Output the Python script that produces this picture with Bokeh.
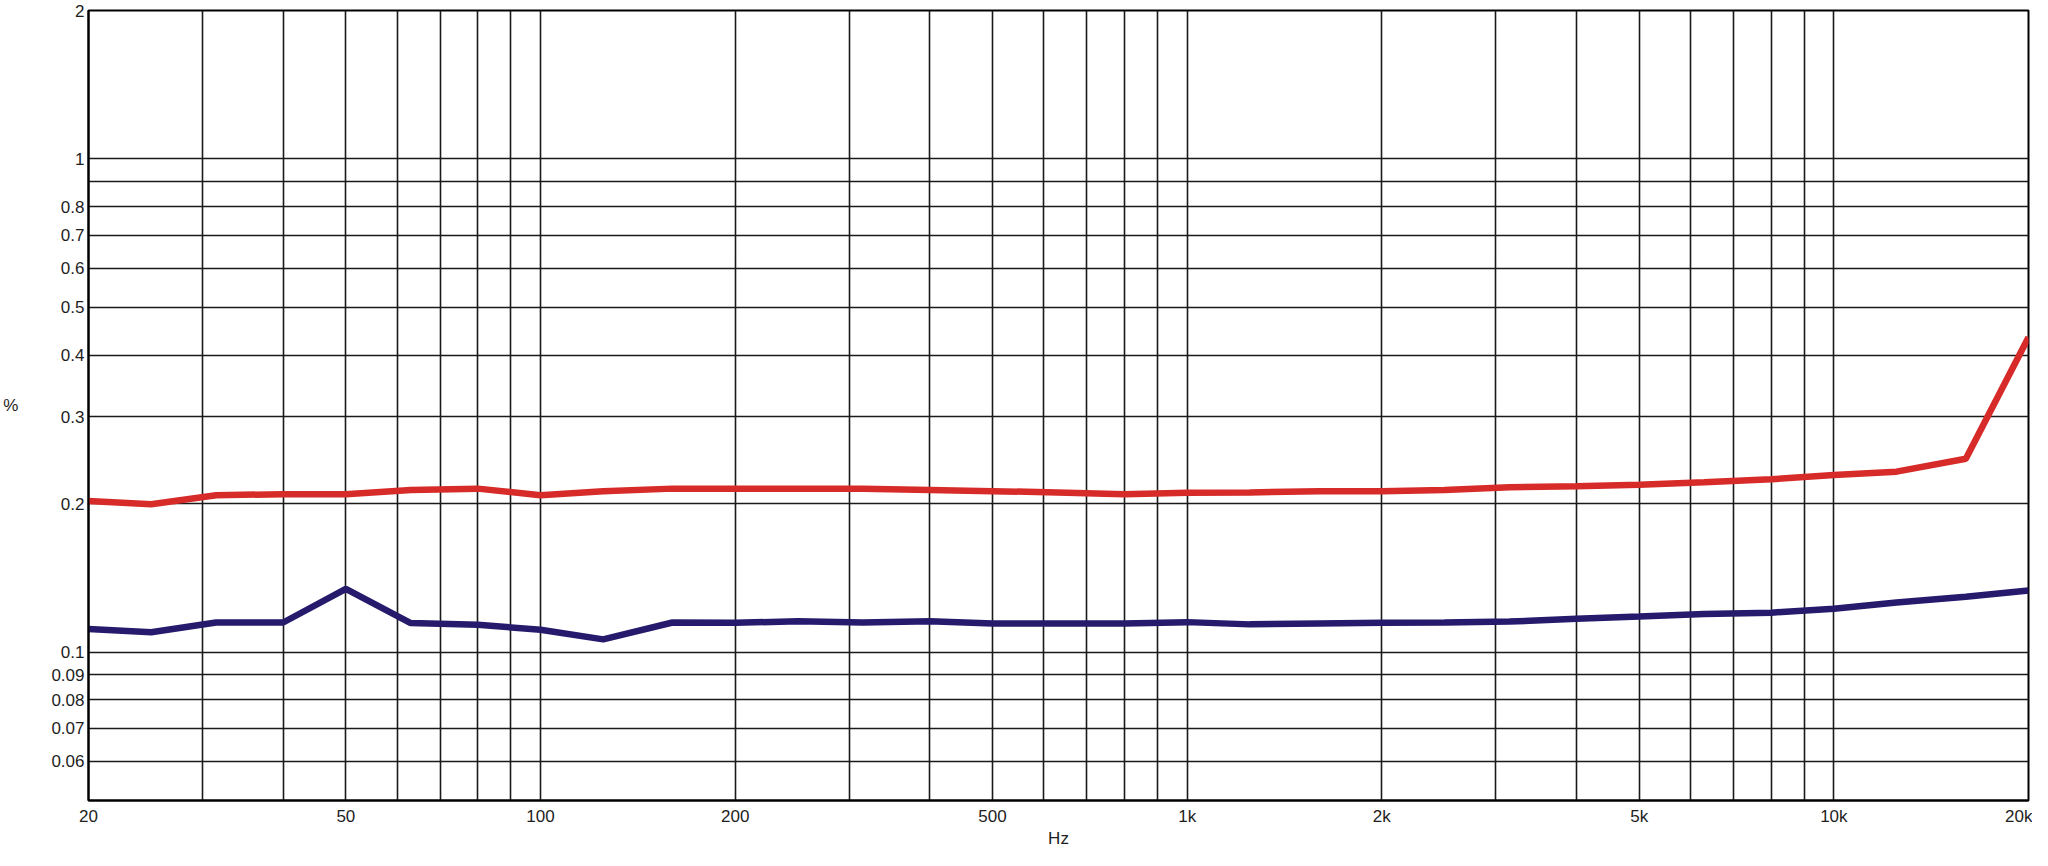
from bokeh.plotting import figure
from bokeh.models import FixedTicker, CustomJSTickFormatter, Range1d
from bokeh.embed import file_html
from bokeh.resources import INLINE

# 1/3-octave frequencies (Hz)
freq = [20, 25, 31.5, 40, 50, 63, 80, 100, 125, 160, 200, 250, 315, 400, 500, 630,
        800, 1000, 1250, 1600, 2000, 2500, 3150, 4000, 5000, 6300, 8000, 10000,
        12500, 16000, 20000]

# distortion (%) series
red_vals = [0.2024, 0.1994, 0.208, 0.209, 0.209, 0.2132, 0.2145, 0.208, 0.212, 0.2145,
            0.2145, 0.2145, 0.2143, 0.2132, 0.212, 0.2107, 0.209, 0.2104, 0.2107, 0.212,
            0.212, 0.2132, 0.2158, 0.2168, 0.2184, 0.2211, 0.2241, 0.2287, 0.2322, 0.2466,
            0.4347]
blue_vals = [0.1114, 0.1097, 0.1148, 0.1148, 0.1343, 0.1145, 0.1136, 0.1110, 0.1061, 0.1148,
             0.1146, 0.1155, 0.1148, 0.1155, 0.1143, 0.1143, 0.1143, 0.115, 0.1138, 0.1143,
             0.1146, 0.1148, 0.1153, 0.1168, 0.118, 0.1195, 0.1202, 0.1224, 0.126, 0.1295,
             0.1333]

x_major = [20, 50, 100, 200, 500, 1000, 2000, 5000, 10000, 20000]
x_minor = [30, 40, 60, 70, 80, 90, 300, 400, 600, 700, 800, 900,
           3000, 4000, 6000, 7000, 8000, 9000]
y_major = [0.06, 0.07, 0.08, 0.09, 0.1, 0.2, 0.3, 0.4, 0.5, 0.6, 0.7, 0.8, 1, 2]
y_minor = [0.9]

FONT = "Liberation Sans"
TXT = "#1e1e1e"
GRID = "#1a1a1a"

p = figure(width=2032, height=850, x_axis_type="log", y_axis_type="log",
           x_range=Range1d(20, 20000), y_range=Range1d(0.05, 2),
           output_backend="svg", toolbar_location=None,
           min_border_left=82, min_border_right=4, min_border_top=10,
           min_border_bottom=0, x_axis_label="Hz", y_axis_label="%")

p.xaxis.ticker = FixedTicker(ticks=x_major, minor_ticks=x_minor)
p.yaxis.ticker = FixedTicker(ticks=y_major, minor_ticks=y_minor)
p.xaxis.formatter = CustomJSTickFormatter(
    code="return tick >= 1000 ? (tick/1000) + 'k' : String(tick);")
p.yaxis.formatter = CustomJSTickFormatter(
    code="return String(Math.round(tick*100)/100);")

for ax in (p.xaxis, p.yaxis):
    ax.major_tick_out = 0
    ax.major_tick_in = 0
    ax.minor_tick_out = 0
    ax.minor_tick_in = 0
    ax.axis_line_color = "black"
    ax.axis_line_width = 2
    ax.major_label_text_font = FONT
    ax.major_label_text_font_size = "17px"
    ax.major_label_text_color = TXT
    ax.axis_label_text_font = FONT
    ax.axis_label_text_font_size = "17px"
    ax.axis_label_text_font_style = "normal"
    ax.axis_label_text_color = TXT

p.xaxis.major_label_standoff = 6
p.xaxis.axis_label_standoff = 0
p.yaxis.major_label_standoff = 4
p.yaxis.axis_label_orientation = "horizontal"
p.yaxis.axis_label_standoff = 30

for g in (p.xgrid, p.ygrid):
    g.grid_line_color = GRID
    g.grid_line_width = 1.6
    g.grid_line_alpha = 1
    g.minor_grid_line_color = GRID
    g.minor_grid_line_width = 1.6
    g.minor_grid_line_alpha = 1

p.outline_line_color = "black"
p.outline_line_width = 2
p.outline_line_alpha = 1

p.line(freq, red_vals, line_color="#d62b28", line_width=6.5)
p.line(freq, blue_vals, line_color="#251a6c", line_width=6.5)

open("out.html", "w").write(file_html(p, INLINE))
